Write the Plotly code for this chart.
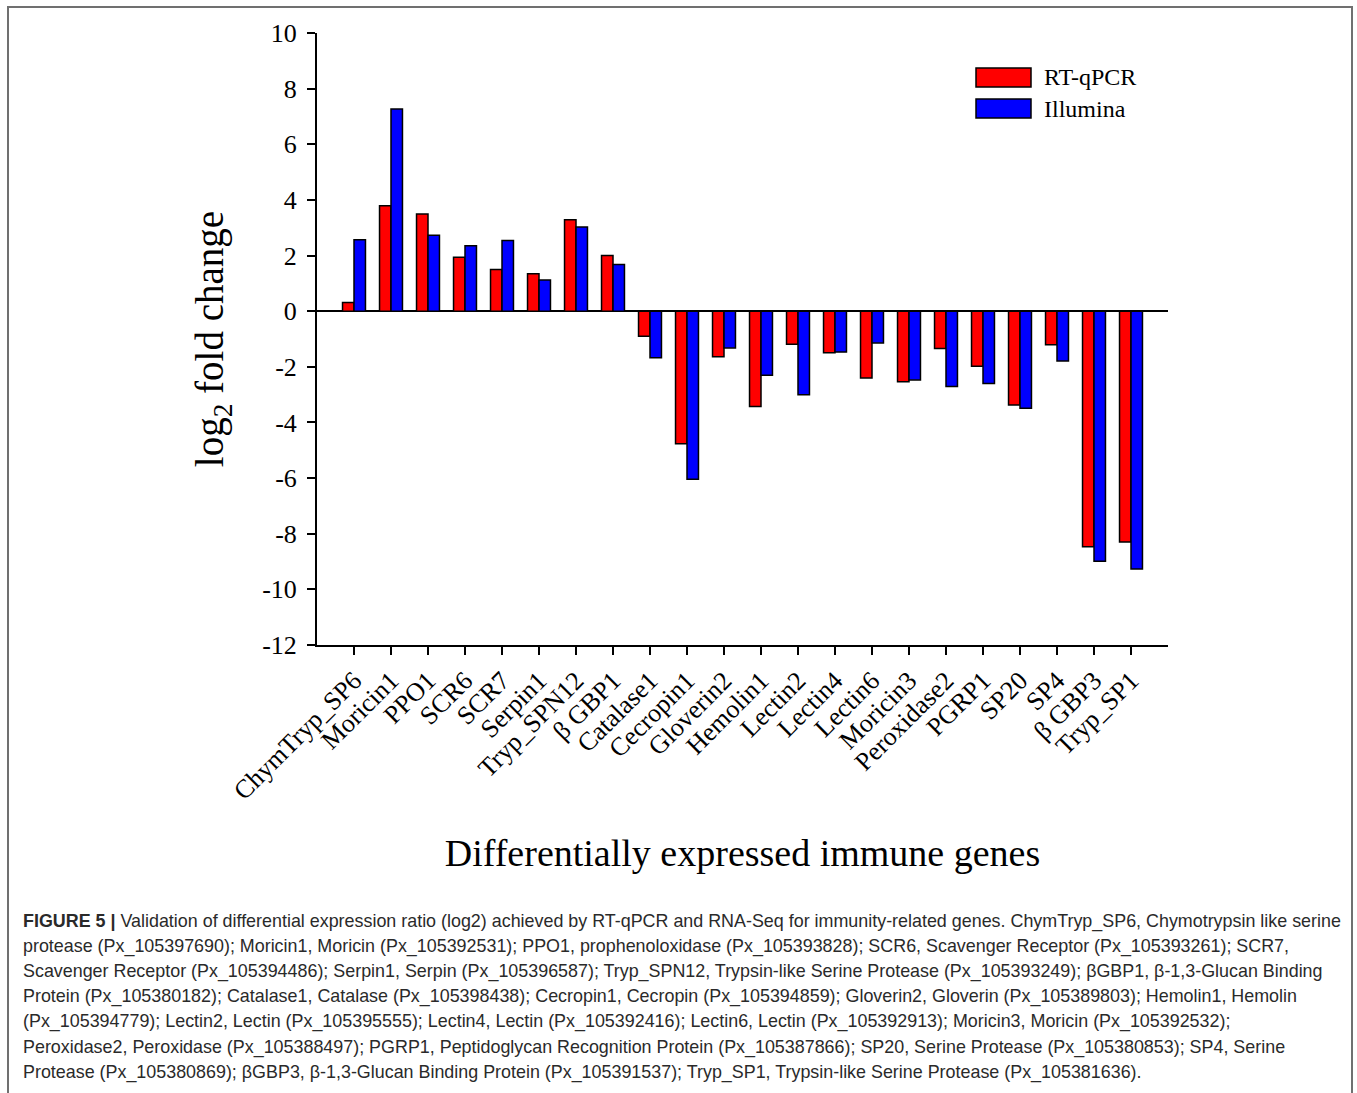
import plotly.graph_objects as go

# Genes and log2 fold change values for the two methods
genes = ["ChymTryp_SP6", "Moricin1", "PPO1", "SCR6", "SCR7", "Serpin1",
         "Tryp_SPN12", "β GBP1", "Catalase1", "Cecropin1", "Gloverin2",
         "Hemolin1", "Lectin2", "Lectin4", "Lectin6", "Moricin3",
         "Peroxidase2", "PGRP1", "SP20", "SP4", "β GBP3", "Tryp_SP1"]
rt_qpcr = [0.31, 3.79, 3.49, 1.94, 1.50, 1.35, 3.29, 2.00, -0.90, -4.77,
           -1.64, -3.43, -1.19, -1.49, -2.40, -2.54, -1.34, -1.98, -3.37,
           -1.21, -8.47, -8.30]
illumina = [2.57, 7.27, 2.73, 2.35, 2.54, 1.12, 3.03, 1.68, -1.67, -6.04,
            -1.32, -2.30, -3.00, -1.47, -1.14, -2.47, -2.71, -2.60, -3.49,
            -1.79, -8.99, -9.27]
series_names = ["RT-qPCR", "Illumina"]
series_colors = ["#ff0000", "#0000ff"]
y_ticks = [10, 8, 6, 4, 2, 0, -2, -4, -6, -8, -10, -12]
y_tick_text = ["10", "8", "6", "4", "2", "0", "-2", "-4", "-6", "-8", "-10", "-12"]

caption_lines = [
    "<b>FIGURE 5 |</b> Validation of differential expression ratio (log2) achieved by RT-qPCR and RNA-Seq for immunity-related genes. ChymTryp_SP6, Chymotrypsin like serine",
    "protease (Px_105397690); Moricin1, Moricin (Px_105392531); PPO1, prophenoloxidase (Px_105393828); SCR6, Scavenger Receptor (Px_105393261); SCR7,",
    "Scavenger Receptor (Px_105394486); Serpin1, Serpin (Px_105396587); Tryp_SPN12, Trypsin-like Serine Protease (Px_105393249); βGBP1, β-1,3-Glucan Binding",
    "Protein (Px_105380182); Catalase1, Catalase (Px_105398438); Cecropin1, Cecropin (Px_105394859); Gloverin2, Gloverin (Px_105389803); Hemolin1, Hemolin",
    "(Px_105394779); Lectin2, Lectin (Px_105395555); Lectin4, Lectin (Px_105392416); Lectin6, Lectin (Px_105392913); Moricin3, Moricin (Px_105392532);",
    "Peroxidase2, Peroxidase (Px_105388497); PGRP1, Peptidoglycan Recognition Protein (Px_105387866); SP20, Serine Protease (Px_105380853); SP4, Serine",
    "Protease (Px_105380869); βGBP3, β-1,3-Glucan Binding Protein (Px_105391537); Tryp_SP1, Trypsin-like Serine Protease (Px_105381636).",
]

W, H = 1357, 1093
PLOT_L, PLOT_R, PLOT_T, PLOT_B = 317, 1168, 33, 645
SERIF = "Liberation Serif, Times New Roman, serif"
CAPTION_FONT = "Liberation Sans Narrow, Arial Narrow, Liberation Sans, sans-serif"


def px_x(x):
    return (x - PLOT_L) / (PLOT_R - PLOT_L)


def px_y(y):
    return (PLOT_B - y) / (PLOT_B - PLOT_T)


fig = go.Figure()
for name, vals, col in zip(series_names, [rt_qpcr, illumina], series_colors):
    fig.add_trace(go.Bar(
        x=genes, y=vals, name=name,
        marker=dict(color=col, line=dict(color="black", width=1.5)),
    ))

shapes = []
annotations = []

# Legend swatches with labels
for i, (name, col) in enumerate(zip(series_names, series_colors)):
    top = 68 + i * 31
    shapes.append(dict(type="rect", xref="paper", yref="paper",
                       x0=px_x(976), x1=px_x(1031), y0=px_y(top), y1=px_y(top + 19),
                       fillcolor=col, line=dict(color="black", width=1.5)))
    annotations.append(dict(xref="paper", yref="paper", x=px_x(1042), y=px_y(top + 9.5),
                            text=name, showarrow=False, xanchor="left", yanchor="middle",
                            font=dict(family=SERIF, size=24, color="black")))

# Figure frame
shapes.append(dict(type="rect", xref="paper", yref="paper",
                   x0=px_x(8), x1=px_x(1352), y0=px_y(7), y1=px_y(1120),
                   line=dict(color="#707070", width=2), fillcolor="rgba(0,0,0,0)"))

# Caption
for i, line in enumerate(caption_lines):
    annotations.append(dict(xref="paper", yref="paper", x=px_x(21), y=px_y(921 + i * 25.2),
                            text=line, showarrow=False, xanchor="left", yanchor="middle",
                            font=dict(family=CAPTION_FONT, size=17.9, color="#2a2a2a")))

fig.update_layout(
    width=W, height=H,
    margin=dict(l=PLOT_L, r=W - PLOT_R, t=PLOT_T, b=H - PLOT_B, pad=0),
    paper_bgcolor="white", plot_bgcolor="white",
    barmode="group", bargap=0.38, bargroupgap=0,
    showlegend=False,
    font=dict(family=SERIF, color="black"),
    shapes=shapes, annotations=annotations,
)
fig.update_xaxes(
    type="category", range=[-1, len(genes)],
    showline=True, linecolor="black", linewidth=2,
    ticks="outside", ticklen=8, tickwidth=1.5, tickcolor="black",
    tickangle=-45, tickfont=dict(family=SERIF, size=26, color="black"),
    showgrid=False, zeroline=False,
    title=dict(text="Differentially expressed immune genes",
               font=dict(family=SERIF, size=38, color="black"), standoff=35),
)
fig.update_yaxes(
    range=[-12, 10], tickvals=y_ticks, ticktext=y_tick_text,
    showline=True, linecolor="black", linewidth=2,
    ticks="outside", ticklen=8, tickwidth=1.5, tickcolor="black",
    tickfont=dict(family=SERIF, size=26, color="black"), ticklabelstandoff=5,
    showgrid=False, zeroline=True, zerolinecolor="black", zerolinewidth=2,
    title=dict(text="log<sub>2</sub> fold change",
               font=dict(family=SERIF, size=39, color="black"), standoff=26),
)

fig.write_html("out.html")
